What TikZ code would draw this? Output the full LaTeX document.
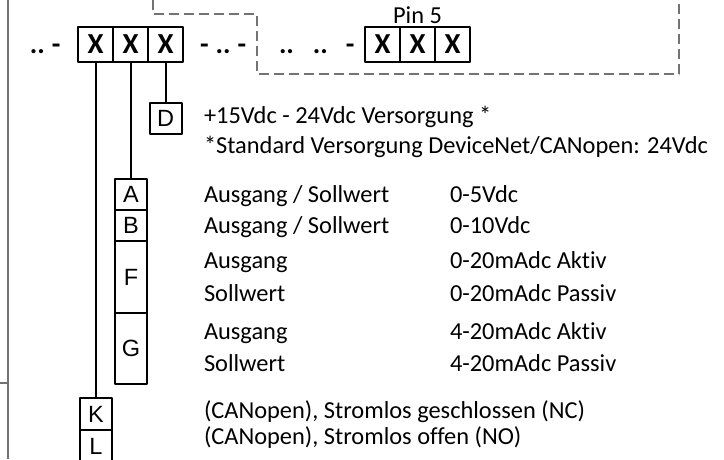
\documentclass[tikz,border=0pt]{standalone}
\usepackage{fontspec}
\setmainfont{Carlito}[Ligatures=NoCommon]
\newfontfamily\lettera{Liberation Sans}

\begin{document}
\begin{tikzpicture}[x=1pt, y=-1pt, line width=2pt, line cap=round, line join=round,
    casella/.style={draw, line cap=butt, minimum width=35pt, minimum height=35pt,
        inner sep=0pt, font=\fontsize{29}{32}\selectfont\bfseries},
    codice/.style={draw, line cap=butt, minimum width=32pt, minimum height=31pt,
        inner sep=0pt, font=\lettera\fontsize{23.5}{26}\selectfont},
    testo/.style={anchor=base west, inner sep=0pt, font=\fontsize{24.4}{28}\selectfont},
    puntini/.style={anchor=base west, inner sep=0pt, font=\fontsize{28}{30}\selectfont\bfseries},
    grigio/.style={draw=black!55, line width=1.4pt, line cap=butt}]

    \useasboundingbox (0,0) rectangle (724,459);

    % Bordo grigio a sinistra
    \draw[grigio] (8,0) -- (8,459);
    \draw[grigio] (0,383) -- (8,383);

    % Zona tratteggiata
    \draw[grigio, dash pattern=on 10pt off 5pt]
        (153,0) -- (153,14) -- (257,14) -- (257,74) -- (679,74) -- (679,0);

    % Codice: caselle X
    \node[casella] (x1) at (95.5,44.5) {X};
    \node[casella] (x2) at (130.5,44.5) {X};
    \node[casella] (x3) at (165.5,44.5) {X};
    \node[casella] (p1) at (382.5,44.5) {X};
    \node[casella] (p2) at (417.5,44.5) {X};
    \node[casella] (p3) at (452.5,44.5) {X};
    \node[anchor=base, inner sep=0pt, font=\fontsize{24.4}{28}\selectfont] (pin) at (417.5,23) {Pin 5};

    % Puntini e trattini
    \node[puntini] (sx) at (29,53) {..\hspace{7pt}-};
    \node[puntini] (mezzo) at (199,53) {-\hspace{7pt}..\hspace{7pt}-};
    \node[puntini] (dx) at (278,53) {..\hspace{19pt}..\hspace{18pt}-};

    % Caselle delle opzioni
    \node[codice] (d) at (165.5,118.5) {D};
    \node[codice] (a) at (131,194.5) {A};
    \node[codice] (b) at (131,225.5) {B};
    \node[codice, minimum height=72pt] (f) at (131,277) {F};
    \node[codice, minimum height=71pt] (g) at (131,348.5) {G};
    \node[codice, minimum height=32pt] (k) at (96,414) {K};
    \node[codice, minimum height=32pt] (l) at (96,446) {L};

    % Collegamenti verticali
    \draw (x3.south) -- (d.north);
    \draw (x2.south) -- (x2.south |- a.north);
    \draw (x1.south) -- (x1.south |- k.north);

    % Testi
    \node[testo] (t1) at (203,123) {+15Vdc - 24Vdc Versorgung *};
    \node[testo] (t2) at (203,153) {*Standard Versorgung DeviceNet/CANopen: 24Vdc};
    \node[testo] (ta) at (203,202) {Ausgang / Sollwert};
    \node[testo] (va) at (449,202) {0-5Vdc};
    \node[testo] (tb) at (203,233) {Ausgang / Sollwert};
    \node[testo] (vb) at (449,233) {0-10Vdc};
    \node[testo] (tf1) at (203,268) {Ausgang};
    \node[testo] (vf1) at (449,268) {0-20mAdc Aktiv};
    \node[testo] (tf2) at (203,301) {Sollwert};
    \node[testo] (vf2) at (449,301) {0-20mAdc Passiv};
    \node[testo] (tg1) at (203,339) {Ausgang};
    \node[testo] (vg1) at (449,339) {4-20mAdc Aktiv};
    \node[testo] (tg2) at (203,371) {Sollwert};
    \node[testo] (vg2) at (449,371) {4-20mAdc Passiv};
    \node[testo] (tk) at (203,418) {(CANopen), Stromlos geschlossen (NC)};
    \node[testo] (tl) at (203,444) {(CANopen), Stromlos offen (NO)};

\end{tikzpicture}
\end{document}
